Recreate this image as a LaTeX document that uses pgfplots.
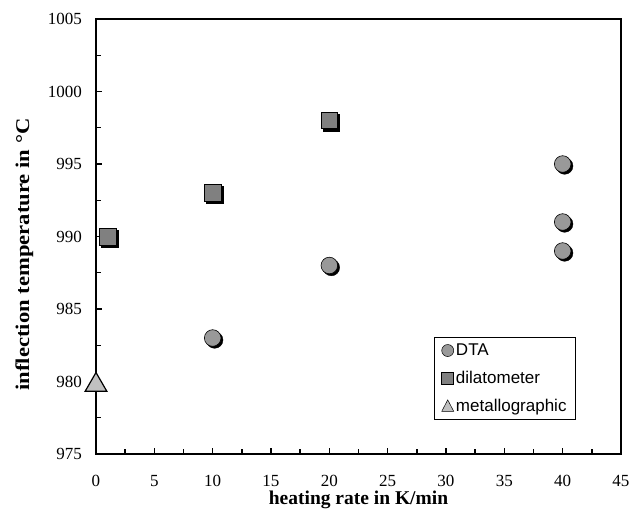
\documentclass[border=0pt]{standalone}
\usepackage{fontspec}
\setmainfont{Liberation Serif}
\newfontfamily\arial{Liberation Sans}
\newfontfamily\ylabfont[FakeStretch=1.16]{Liberation Serif}
\usepackage{pgfplots}
\pgfplotsset{compat=1.18}
\definecolor{circ}{HTML}{999999}
\definecolor{sq}{HTML}{808080}
\definecolor{tri}{HTML}{C0C0C0}
\begin{document}
\begin{tikzpicture}
\useasboundingbox (-96pt,-58pt) rectangle (545pt,454pt);
\begin{axis}[
  at={(0,0)}, anchor=south west,
  scale only axis, width=525pt, height=435pt,
  xmin=0, xmax=45, ymin=975, ymax=1005,
  xtick={0,5,...,45}, ytick={975,980,...,1005},
  minor tick num=1,
  xtick pos=bottom, ytick pos=left,
  tick align=inside,
  major tick length=6pt, minor tick length=5pt,
  tick style={line width=1.4pt, black},
  axis line style={line width=1.2pt},
  /pgf/number format/assume math mode=true,
  /pgf/number format/1000 sep={},
  tick label style={font=\fontsize{17}{20}\selectfont, inner sep=0pt},
  xticklabel style={anchor=base, yshift=-32pt},
  yticklabel style={anchor=east, xshift=-14pt},
  xlabel={heating rate in K/min},
  ylabel={inflection temperature in \textdegree C},
  xlabel style={font=\fontsize{19.5}{22}\selectfont\bfseries, at={(rel axis cs:0.5,-0.1160)}, anchor=base, inner sep=0pt},
  ylabel style={font=\ylabfont\fontsize{19.5}{22}\selectfont\bfseries, at={(rel axis cs:-0.1276,0.4586)}, anchor=base, inner sep=0pt},
  clip=false,
  legend style={at={(rel axis cs:0.914,0.078)}, anchor=south east,
    draw=black, line width=0.6pt, font=\arial\fontsize{17}{20}\selectfont,
    inner xsep=7pt, inner ysep=5pt, row sep=10pt},
  legend cell align=left,
]
% shadows
\addplot[only marks, mark=*, mark size=8.3pt, mark options={fill=black, draw=black, xshift=2pt, yshift=-2pt}, forget plot]
  coordinates {(10,983) (20,988) (40,995) (40,991) (40,989)};
\addplot[only marks, mark=square*, mark size=8.3pt, mark options={fill=black, draw=black, xshift=2pt, yshift=-2pt}, forget plot]
  coordinates {(1,990) (10,993) (20,998)};
% markers
\addplot[only marks, mark=*, mark size=8.3pt, mark options={fill=circ, draw=black, line width=0.6pt},
  legend image code/.code={\draw[fill=circ, draw=black, line width=0.5pt] (0.25cm,0) circle (6pt);}]
  coordinates {(10,983) (20,988) (40,995) (40,991) (40,989)};
\addlegendentry{DTA}
\addplot[only marks, mark=square*, mark size=8.3pt, mark options={fill=sq, draw=black, line width=0.6pt},
  legend image code/.code={\draw[fill=sq, draw=black, line width=0.5pt] (0.25cm-6pt,-6pt) rectangle (0.25cm+6pt,6pt);}]
  coordinates {(1,990) (10,993) (20,998)};
\addlegendentry{dilatometer}
\addplot[only marks, mark=triangle*, mark size=12.5pt, mark options={fill=tri, draw=black, line width=1.2pt, yshift=-3.5pt},
  legend image code/.code={\draw[fill=tri, draw=black, line width=0.5pt] (0.25cm-6pt,-5.5pt) -- (0.25cm+6pt,-5.5pt) -- (0.25cm,6pt) -- cycle;}]
  coordinates {(0,980)};
\addlegendentry{metallographic}
\draw[line width=2.6pt] (rel axis cs:0,1) -- (rel axis cs:0,0) -- (rel axis cs:1,0);
\end{axis}
\end{tikzpicture}
\end{document}
